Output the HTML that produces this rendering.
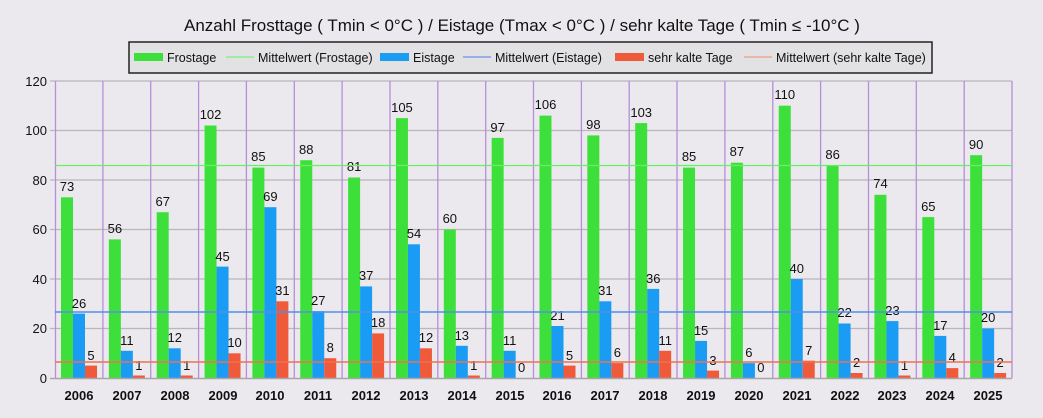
<!DOCTYPE html>
<html><head><meta charset="utf-8"><style>
body{margin:0;background:#ebe9ed}
svg{display:block;font-family:"Liberation Sans",sans-serif}
.v text{font-size:13px;text-anchor:middle;fill:#111}
</style></head><body>
<svg width="1043" height="418" viewBox="0 0 1043 418">
<rect width="1043" height="418" fill="#ebe9ed"/>
<text x="522" y="31" font-size="17" text-anchor="middle" fill="#111">Anzahl  Frosttage ( Tmin  &lt;  0°C ) / Eistage (Tmax  &lt;  0°C ) / sehr kalte Tage ( Tmin ≤ -10°C  )</text>
<rect x="129" y="42" width="803" height="31" fill="#e2e1e3" stroke="#222" stroke-width="1.5"/>
<g font-size="12.5" fill="#111">
<rect x="134" y="53" width="29" height="8" fill="#3de03a"/><text x="167" y="62">Frostage</text>
<line x1="226" y1="57" x2="254" y2="57" stroke="#66ee66"/><text x="258" y="62">Mittelwert (Frostage)</text>
<rect x="380" y="53" width="29" height="8" fill="#1a9cf5"/><text x="413" y="62">Eistage</text>
<line x1="463" y1="57" x2="491" y2="57" stroke="#4f7fee"/><text x="495" y="62">Mittelwert (Eistage)</text>
<rect x="615" y="53" width="29" height="8" fill="#ef5a3a"/><text x="648" y="62">sehr kalte Tage</text>
<line x1="744" y1="57" x2="772" y2="57" stroke="#f08a70"/><text x="776" y="62">Mittelwert (sehr kalte Tage)</text>
</g>
<g stroke="#b9b6bc" stroke-width="1.2">
<line x1="50" y1="81" x2="1012" y2="81"/><line x1="50" y1="130.5" x2="1012" y2="130.5"/><line x1="50" y1="180" x2="1012" y2="180"/><line x1="50" y1="229.5" x2="1012" y2="229.5"/><line x1="50" y1="279" x2="1012" y2="279"/><line x1="50" y1="328.5" x2="1012" y2="328.5"/>
</g>
<g stroke="#b58fd8" stroke-width="1.3">
<line x1="55.5" y1="81" x2="55.5" y2="378"/><line x1="102.9" y1="81" x2="102.9" y2="378"/><line x1="150.7" y1="81" x2="150.7" y2="378"/><line x1="198.6" y1="81" x2="198.6" y2="378"/><line x1="246.4" y1="81" x2="246.4" y2="378"/><line x1="294.3" y1="81" x2="294.3" y2="378"/><line x1="342.1" y1="81" x2="342.1" y2="378"/><line x1="390" y1="81" x2="390" y2="378"/><line x1="437.8" y1="81" x2="437.8" y2="378"/><line x1="485.7" y1="81" x2="485.7" y2="378"/><line x1="533.5" y1="81" x2="533.5" y2="378"/><line x1="581.4" y1="81" x2="581.4" y2="378"/><line x1="629.2" y1="81" x2="629.2" y2="378"/><line x1="677" y1="81" x2="677" y2="378"/><line x1="724.9" y1="81" x2="724.9" y2="378"/><line x1="772.8" y1="81" x2="772.8" y2="378"/><line x1="820.6" y1="81" x2="820.6" y2="378"/><line x1="868.5" y1="81" x2="868.5" y2="378"/><line x1="916.3" y1="81" x2="916.3" y2="378"/><line x1="964.2" y1="81" x2="964.2" y2="378"/><line x1="1012" y1="81" x2="1012" y2="378"/>
</g>
<g font-size="13" text-anchor="end" fill="#111">
<text x="47" y="86">120</text><text x="47" y="135">100</text><text x="47" y="185">80</text><text x="47" y="234">60</text><text x="47" y="284">40</text><text x="47" y="333">20</text><text x="47" y="383">0</text>
</g>
<g class="v">
<g transform="translate(55,0)"><rect x="6" y="197.3" width="12" height="180.7" fill="#3de03a"/><rect x="18" y="313.6" width="12" height="64.4" fill="#1a9cf5"/><rect x="30" y="365.6" width="12" height="12.4" fill="#ef5a3a"/><text x="12" y="191">73</text><text x="24" y="308">26</text><text x="36" y="360">5</text></g>
<g transform="translate(102.85,0)"><rect x="6" y="239.4" width="12" height="138.6" fill="#3de03a"/><rect x="18" y="350.8" width="12" height="27.2" fill="#1a9cf5"/><rect x="30" y="375.5" width="12" height="2.5" fill="#ef5a3a"/><text x="12" y="233">56</text><text x="24" y="345">11</text><text x="36" y="370">1</text></g>
<g transform="translate(150.7,0)"><rect x="6" y="212.2" width="12" height="165.8" fill="#3de03a"/><rect x="18" y="348.3" width="12" height="29.7" fill="#1a9cf5"/><rect x="30" y="375.5" width="12" height="2.5" fill="#ef5a3a"/><text x="12" y="206">67</text><text x="24" y="342">12</text><text x="36" y="370">1</text></g>
<g transform="translate(198.55,0)"><rect x="6" y="125.5" width="12" height="252.5" fill="#3de03a"/><rect x="18" y="266.6" width="12" height="111.4" fill="#1a9cf5"/><rect x="30" y="353.3" width="12" height="24.7" fill="#ef5a3a"/><text x="12" y="119">102</text><text x="24" y="261">45</text><text x="36" y="347">10</text></g>
<g transform="translate(246.4,0)"><rect x="6" y="167.6" width="12" height="210.4" fill="#3de03a"/><rect x="18" y="207.2" width="12" height="170.8" fill="#1a9cf5"/><rect x="30" y="301.3" width="12" height="76.7" fill="#ef5a3a"/><text x="12" y="161">85</text><text x="24" y="201">69</text><text x="36" y="295">31</text></g>
<g transform="translate(294.25,0)"><rect x="6" y="160.2" width="12" height="217.8" fill="#3de03a"/><rect x="18" y="311.2" width="12" height="66.8" fill="#1a9cf5"/><rect x="30" y="358.2" width="12" height="19.8" fill="#ef5a3a"/><text x="12" y="154">88</text><text x="24" y="305">27</text><text x="36" y="352">8</text></g>
<g transform="translate(342.1,0)"><rect x="6" y="177.5" width="12" height="200.5" fill="#3de03a"/><rect x="18" y="286.4" width="12" height="91.6" fill="#1a9cf5"/><rect x="30" y="333.4" width="12" height="44.6" fill="#ef5a3a"/><text x="12" y="171">81</text><text x="24" y="280">37</text><text x="36" y="327">18</text></g>
<g transform="translate(389.95,0)"><rect x="6" y="118.1" width="12" height="259.9" fill="#3de03a"/><rect x="18" y="244.3" width="12" height="133.7" fill="#1a9cf5"/><rect x="30" y="348.3" width="12" height="29.7" fill="#ef5a3a"/><text x="12" y="112">105</text><text x="24" y="238">54</text><text x="36" y="342">12</text></g>
<g transform="translate(437.8,0)"><rect x="6" y="229.5" width="12" height="148.5" fill="#3de03a"/><rect x="18" y="345.8" width="12" height="32.2" fill="#1a9cf5"/><rect x="30" y="375.5" width="12" height="2.5" fill="#ef5a3a"/><text x="12" y="223">60</text><text x="24" y="340">13</text><text x="36" y="370">1</text></g>
<g transform="translate(485.65,0)"><rect x="6" y="137.9" width="12" height="240.1" fill="#3de03a"/><rect x="18" y="350.8" width="12" height="27.2" fill="#1a9cf5"/><text x="12" y="132">97</text><text x="24" y="345">11</text><text x="36" y="372">0</text></g>
<g transform="translate(533.5,0)"><rect x="6" y="115.6" width="12" height="262.4" fill="#3de03a"/><rect x="18" y="326" width="12" height="52" fill="#1a9cf5"/><rect x="30" y="365.6" width="12" height="12.4" fill="#ef5a3a"/><text x="12" y="109">106</text><text x="24" y="320">21</text><text x="36" y="360">5</text></g>
<g transform="translate(581.35,0)"><rect x="6" y="135.4" width="12" height="242.6" fill="#3de03a"/><rect x="18" y="301.3" width="12" height="76.7" fill="#1a9cf5"/><rect x="30" y="363.1" width="12" height="14.9" fill="#ef5a3a"/><text x="12" y="129">98</text><text x="24" y="295">31</text><text x="36" y="357">6</text></g>
<g transform="translate(629.2,0)"><rect x="6" y="123.1" width="12" height="254.9" fill="#3de03a"/><rect x="18" y="288.9" width="12" height="89.1" fill="#1a9cf5"/><rect x="30" y="350.8" width="12" height="27.2" fill="#ef5a3a"/><text x="12" y="117">103</text><text x="24" y="283">36</text><text x="36" y="345">11</text></g>
<g transform="translate(677.05,0)"><rect x="6" y="167.6" width="12" height="210.4" fill="#3de03a"/><rect x="18" y="340.9" width="12" height="37.1" fill="#1a9cf5"/><rect x="30" y="370.6" width="12" height="7.4" fill="#ef5a3a"/><text x="12" y="161">85</text><text x="24" y="335">15</text><text x="36" y="365">3</text></g>
<g transform="translate(724.9,0)"><rect x="6" y="162.7" width="12" height="215.3" fill="#3de03a"/><rect x="18" y="363.1" width="12" height="14.9" fill="#1a9cf5"/><text x="12" y="156">87</text><text x="24" y="357">6</text><text x="36" y="372">0</text></g>
<g transform="translate(772.75,0)"><rect x="6" y="105.7" width="12" height="272.3" fill="#3de03a"/><rect x="18" y="279" width="12" height="99" fill="#1a9cf5"/><rect x="30" y="360.7" width="12" height="17.3" fill="#ef5a3a"/><text x="12" y="99">110</text><text x="24" y="273">40</text><text x="36" y="355">7</text></g>
<g transform="translate(820.6,0)"><rect x="6" y="165.1" width="12" height="212.9" fill="#3de03a"/><rect x="18" y="323.5" width="12" height="54.5" fill="#1a9cf5"/><rect x="30" y="373" width="12" height="5" fill="#ef5a3a"/><text x="12" y="159">86</text><text x="24" y="317">22</text><text x="36" y="367">2</text></g>
<g transform="translate(868.45,0)"><rect x="6" y="194.8" width="12" height="183.2" fill="#3de03a"/><rect x="18" y="321.1" width="12" height="56.9" fill="#1a9cf5"/><rect x="30" y="375.5" width="12" height="2.5" fill="#ef5a3a"/><text x="12" y="188">74</text><text x="24" y="315">23</text><text x="36" y="370">1</text></g>
<g transform="translate(916.3,0)"><rect x="6" y="217.1" width="12" height="160.9" fill="#3de03a"/><rect x="18" y="335.9" width="12" height="42.1" fill="#1a9cf5"/><rect x="30" y="368.1" width="12" height="9.9" fill="#ef5a3a"/><text x="12" y="211">65</text><text x="24" y="330">17</text><text x="36" y="362">4</text></g>
<g transform="translate(964.15,0)"><rect x="6" y="155.2" width="12" height="222.8" fill="#3de03a"/><rect x="18" y="328.5" width="12" height="49.5" fill="#1a9cf5"/><rect x="30" y="373" width="12" height="5" fill="#ef5a3a"/><text x="12" y="149">90</text><text x="24" y="322">20</text><text x="36" y="367">2</text></g>
</g>
<line x1="55" y1="165.5" x2="1012" y2="165.5" stroke="#66ee66" stroke-width="1.2"/>
<line x1="55" y1="312" x2="1012" y2="312" stroke="#4f8fe8" stroke-width="1.5"/>
<line x1="55" y1="362" x2="1012" y2="362" stroke="#f07050" stroke-width="1.5"/>
<line x1="50" y1="378.5" x2="1012" y2="378.5" stroke="#a8a6aa" stroke-width="1.5"/>
<g font-size="13" font-weight="bold" text-anchor="middle" fill="#111">
<text x="79" y="400">2006</text><text x="127" y="400">2007</text><text x="175" y="400">2008</text><text x="223" y="400">2009</text><text x="270" y="400">2010</text><text x="318" y="400">2011</text><text x="366" y="400">2012</text><text x="414" y="400">2013</text><text x="462" y="400">2014</text><text x="510" y="400">2015</text><text x="557" y="400">2016</text><text x="605" y="400">2017</text><text x="653" y="400">2018</text><text x="701" y="400">2019</text><text x="749" y="400">2020</text><text x="797" y="400">2021</text><text x="845" y="400">2022</text><text x="892" y="400">2023</text><text x="940" y="400">2024</text><text x="988" y="400">2025</text>
</g>
</svg>
</body></html>
